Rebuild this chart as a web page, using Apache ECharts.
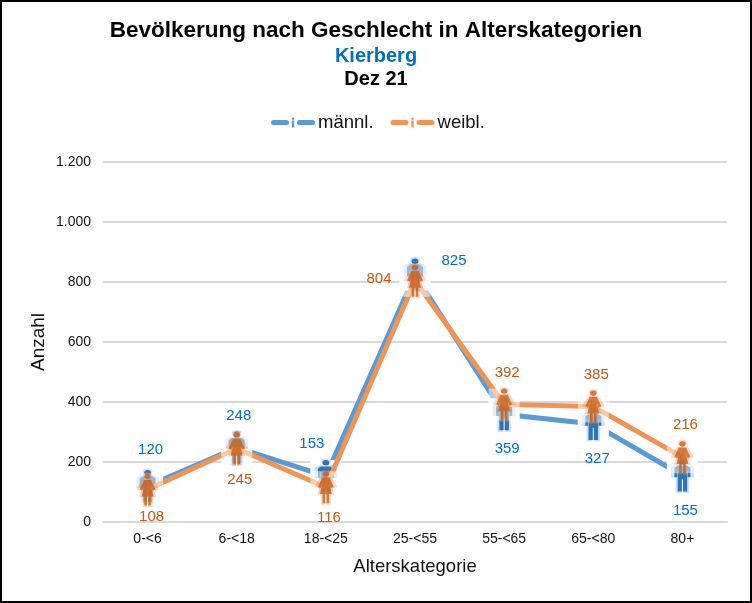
<!DOCTYPE html>
<html><head><meta charset="utf-8">
<script src="https://cdn.jsdelivr.net/npm/echarts@6/dist/echarts.min.js"></script>
<style>html,body{margin:0;padding:0;background:#fff}#c{width:752px;height:603px}</style>
</head><body><div id="c"></div>
<script>
const categories = ['0-<6','6-<18','18-<25','25-<55','55-<65','65-<80','80+'];
const maleValues = [120,248,153,825,359,327,155];
const femaleValues = [108,245,116,804,392,385,216];
const maleLabelOffsets = [[3,-36],[2,-32],[-14,-32],[39,-14],[3,35],[4,35],[3,35]];
const femaleLabelOffsets = [[4,27],[3,31],[3,31],[-36,-2],[3,-32],[3,-32],[3,-32]];
const FONT = '"Liberation Sans", Arial, sans-serif';
const maleIcon = 'path://M7 .4A2.7 2.7 0 1 0 7.01 .4ZM3 6.6H11L13.4 8.6V18H11.2V12H10.8V32H7.4V20H6.6V32H3.2V12H2.8V18H.6V8.6Z';
const femaleIcon = 'path://M7 .4A2.7 2.7 0 1 0 7.01 .4ZM4 6.6H10L13.8 16L11.4 17.2L10 13L12 23H9.8V32H7.5V23H6.5V32H4.2V23H2L4 13L2.6 17.2L.2 16Z';
const legendIcon = 'path://M2.5 2.5H15.5A2.5 2.5 0 0 1 15.5 7.5H2.5A2.5 2.5 0 0 1 2.5 2.5ZM22 0A1.3 1.3 0 1 0 22.01 0ZM20.8 3H23.2V10H20.8ZM28.5 2.5H41.5A2.5 2.5 0 0 1 41.5 7.5H28.5A2.5 2.5 0 0 1 28.5 2.5Z';

function lineSeries(name, values, color, z){
  return {type:'line',name,data:values,z,showSymbol:false,symbol:'none',silent:true,
    lineStyle:{color,width:5,cap:'butt',join:'miter'},itemStyle:{color},animation:false};
}
function haloSeries(name, values, opacity, z){
  return {type:'scatter',name,data:values,z,symbol:'rect',symbolSize:[31,32],silent:true,
    itemStyle:{color:'#fff',opacity},animation:false};
}
function glowSeries(name, values, icon, color, z){
  return {type:'scatter',name,data:values,z,symbol:icon,symbolSize:[23,35],silent:true,
    itemStyle:{color,opacity:0.3},animation:false};
}
function iconSeries(name, values, icon, color, labelColor, offsets, z){
  return {type:'scatter',name,z,symbol:icon,symbolSize:[16,32],symbolKeepAspect:false,silent:true,
    itemStyle:{color,opacity:1},animation:false,
    data:values.map((v,i)=>({value:v,label:{show:true,position:'inside',offset:offsets[i],
      color:labelColor,fontSize:15,fontFamily:FONT,formatter:String(v)}}))};
}
const chart = echarts.init(document.getElementById('c'),null,{renderer:'canvas'});
chart.setOption({
  animation:false,
  backgroundColor:'#fff',
  title:[
    {text:'Bevölkerung nach Geschlecht in Alterskategorien',left:'center',top:14,
      textStyle:{fontFamily:FONT,fontSize:22.5,fontWeight:'bold',color:'#000'}},
    {text:'Kierberg',left:'center',top:41,textStyle:{fontFamily:FONT,fontSize:20,fontWeight:'bold',color:'#0070C0'}},
    {text:'Dez 21',left:'center',top:64,textStyle:{fontFamily:FONT,fontSize:20,fontWeight:'bold',color:'#000'}}
  ],
  legend:{left:266,top:108,itemWidth:44,itemHeight:10,itemGap:17,
    textStyle:{fontFamily:FONT,fontSize:18.5,color:'#111',padding:[0,0,0,-2]},
    data:[{name:'männl.',icon:legendIcon},{name:'weibl.',icon:legendIcon}]},
  grid:{left:103,right:25,top:162,bottom:81,containLabel:false},
  xAxis:{type:'category',data:categories,boundaryGap:true,name:'Alterskategorie',nameLocation:'middle',nameGap:35,
    nameTextStyle:{fontFamily:FONT,fontSize:18.5,color:'#111'},
    axisLine:{lineStyle:{color:'#D9D9D9',width:2}},axisTick:{show:false},
    axisLabel:{fontFamily:FONT,fontSize:14,color:'#111',margin:10,interval:0}},
  yAxis:{type:'value',min:0,max:1200,interval:200,name:'Anzahl',nameLocation:'middle',nameGap:55,nameMoveOverlap:false,
    nameTextStyle:{fontFamily:FONT,fontSize:19,color:'#111'},
    axisLine:{show:false},axisTick:{show:false},
    splitLine:{lineStyle:{color:'#D9D9D9',width:2}},
    axisLabel:{fontFamily:FONT,fontSize:14,color:'#111',margin:12,
      formatter:v=>String(v).replace(/\B(?=(\d{3})+$)/g,'.')}},
  series:[
    lineSeries('männl.',maleValues,'#5B9BD5',2),
    haloSeries('haloM',maleValues,1,3),
    glowSeries('glowM',maleValues,maleIcon,'#5B9BD5',4),
    iconSeries('iconM',maleValues,maleIcon,'#2E75B6','#0070C0',maleLabelOffsets,5),
    lineSeries('weibl.',femaleValues,'#F19453',6),
    haloSeries('haloF',femaleValues,0.5,7),
    glowSeries('glowF',femaleValues,femaleIcon,'#ED7D31',8),
    iconSeries('iconF',femaleValues,femaleIcon,'rgba(197,90,17,0.75)','#C55A11',femaleLabelOffsets,9)
  ],
  graphic:[{type:'rect',z:100,silent:true,shape:{x:1,y:1,width:750,height:601},
    style:{fill:'none',stroke:'#000',lineWidth:2}}]
});
</script></body></html>
